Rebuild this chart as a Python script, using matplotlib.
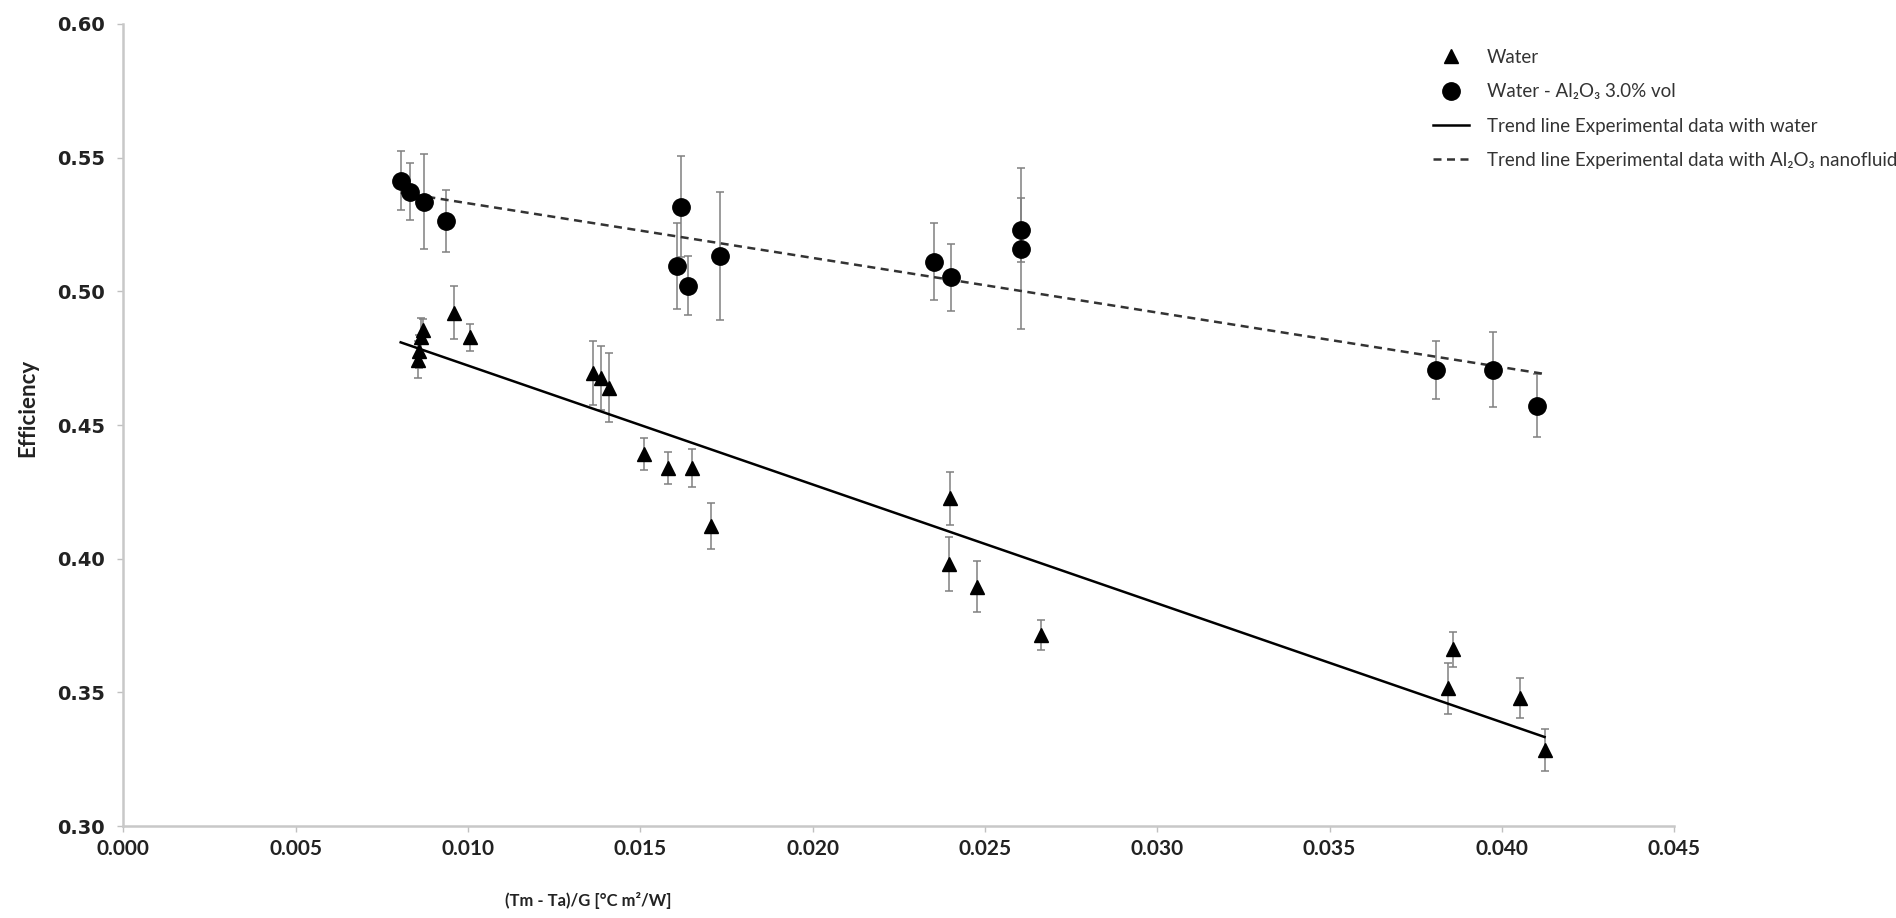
"""
Efficiency of the collector against the reduced temperature difference,
for water and for the Al2O3 nanofluid, with linear trend lines.
"""

#####################################
# Import Modules
#####################################

import matplotlib
matplotlib.use("Agg")
import matplotlib.pyplot as plt
from matplotlib.ticker import FormatStrFormatter, MultipleLocator
import numpy as np

#####################################
# Data
#####################################

# Water series: x = (Tm - Ta)/G, y = efficiency, err = half length of error bar
water_x = [0.00855, 0.00858, 0.00865, 0.00870, 0.00959, 0.01007, 0.01362,
           0.01385, 0.01410, 0.01511, 0.01581, 0.01649, 0.01704, 0.02400,
           0.02396, 0.02476, 0.02664, 0.03844, 0.03857, 0.04054, 0.04124]
water_y = [0.4745, 0.4775, 0.4830, 0.4855, 0.4920, 0.4828, 0.4694,
           0.4675, 0.4640, 0.4390, 0.4338, 0.4340, 0.4123, 0.4226,
           0.3980, 0.3896, 0.3715, 0.3516, 0.3662, 0.3478, 0.3285]
water_err = [0.007, 0.006, 0.007, 0.004, 0.010, 0.005, 0.012,
             0.012, 0.013, 0.006, 0.006, 0.007, 0.0085, 0.010,
             0.010, 0.0095, 0.0055, 0.0095, 0.0065, 0.0075, 0.008]

# Water - Al2O3 3.0% vol series
nano_x = [0.00805, 0.00831, 0.00873, 0.00937, 0.01617, 0.01606, 0.01638,
          0.01731, 0.02352, 0.02403, 0.02604, 0.02604, 0.03808, 0.03973,
          0.04102]
nano_y = [0.5414, 0.5373, 0.5335, 0.5263, 0.5317, 0.5095, 0.5021,
          0.5132, 0.5111, 0.5053, 0.5230, 0.5160, 0.4706, 0.4706,
          0.4573]
nano_err = [0.011, 0.0105, 0.0177, 0.0116, 0.019, 0.016, 0.011,
            0.024, 0.0145, 0.0125, 0.012, 0.030, 0.011, 0.014,
            0.0117]

legend_labels = [
    "Water",
    "Water - Al\u2082O\u2083 3.0% vol",
    "Trend line Experimental data with water",
    "Trend line Experimental data with Al\u2082O\u2083 nanofluid",
]

x_label = "(Tm - Ta)/G [\u00b0C m\u00b2/W]"
y_label = "Efficiency"

#####################################
# Plot
#####################################

def make_plot(output_path="out.png"):
    fig = plt.figure(figsize=(18.96, 9.18), dpi=100)
    ax = fig.add_axes([0.065, 0.100, 0.818, 0.874])

    text_fonts = ["Lato", "Noto Sans", "DejaVu Sans"]

    # error bars first, markers on top
    ax.errorbar(water_x, water_y, yerr=water_err, fmt="none", ecolor="#808080",
                elinewidth=1.1, capsize=3, capthick=1.1, zorder=2)
    ax.errorbar(nano_x, nano_y, yerr=nano_err, fmt="none", ecolor="#808080",
                elinewidth=1.1, capsize=3, capthick=1.1, zorder=2)

    # linear trend lines over the full x range of the data
    all_x = np.array(water_x + nano_x)
    trend_x = np.array([all_x.min(), all_x.max()])
    w_fit = np.polyfit(water_x, water_y, 1)
    n_fit = np.polyfit(nano_x, nano_y, 1)

    ax.plot(water_x, water_y, linestyle="none", marker="^", markersize=10,
            color="black", label=legend_labels[0], zorder=4)
    ax.plot(nano_x, nano_y, linestyle="none", marker="o", markersize=12.5,
            color="black", label=legend_labels[1], zorder=4)
    ax.plot(trend_x, np.polyval(w_fit, trend_x), color="black", linewidth=1.8,
            label=legend_labels[2], zorder=3)
    ax.plot(trend_x, np.polyval(n_fit, trend_x), color="#333333", linewidth=1.8,
            linestyle=(0, (3.2, 2.2)), label=legend_labels[3], zorder=3)

    # axes
    ax.set_xlim(0, 0.045)
    ax.set_ylim(0.30, 0.60)
    ax.xaxis.set_major_locator(MultipleLocator(0.005))
    ax.yaxis.set_major_locator(MultipleLocator(0.05))
    ax.xaxis.set_major_formatter(FormatStrFormatter("%.3f"))
    ax.yaxis.set_major_formatter(FormatStrFormatter("%.2f"))

    for side in ["top", "right"]:
        ax.spines[side].set_visible(False)
    for side in ["left", "bottom"]:
        ax.spines[side].set_color("#c8c8c8")
        ax.spines[side].set_linewidth(1.8)

    ax.tick_params(axis="both", direction="out", length=4, width=1,
                   color="#c0c0c0")
    ax.tick_params(axis="y", pad=9)
    ax.tick_params(axis="x", pad=5)
    for lbl in ax.get_yticklabels():
        lbl.set_fontfamily("DejaVu Sans")
        lbl.set_fontweight("bold")
        lbl.set_fontsize(14)
        lbl.set_color("#222222")
    for lbl in ax.get_xticklabels():
        lbl.set_fontfamily(text_fonts)
        lbl.set_fontweight("bold")
        lbl.set_fontsize(15)
        lbl.set_color("#222222")

    fig.text(0.0148, 0.556, y_label, rotation=90, ha="center", va="center",
             fontsize=16, fontweight="bold", family=text_fonts, color="#222222")
    fig.text(0.310, 0.019, x_label, ha="center", va="center",
             fontsize=12, fontweight="bold", family=text_fonts, color="#222222")

    leg = fig.legend(loc="upper left", bbox_to_anchor=(0.7557, 0.947),
                     frameon=False, borderpad=0, borderaxespad=0,
                     handlelength=1.92, handletextpad=0.97, labelspacing=0.93,
                     prop={"family": text_fonts, "size": 13.5})
    for txt in leg.get_texts():
        txt.set_color("#333333")

    fig.savefig(output_path, dpi=100, facecolor="white")
    plt.close(fig)


#####################################
# Main Execution
#####################################

if __name__ == "__main__":
    make_plot("out.png")
